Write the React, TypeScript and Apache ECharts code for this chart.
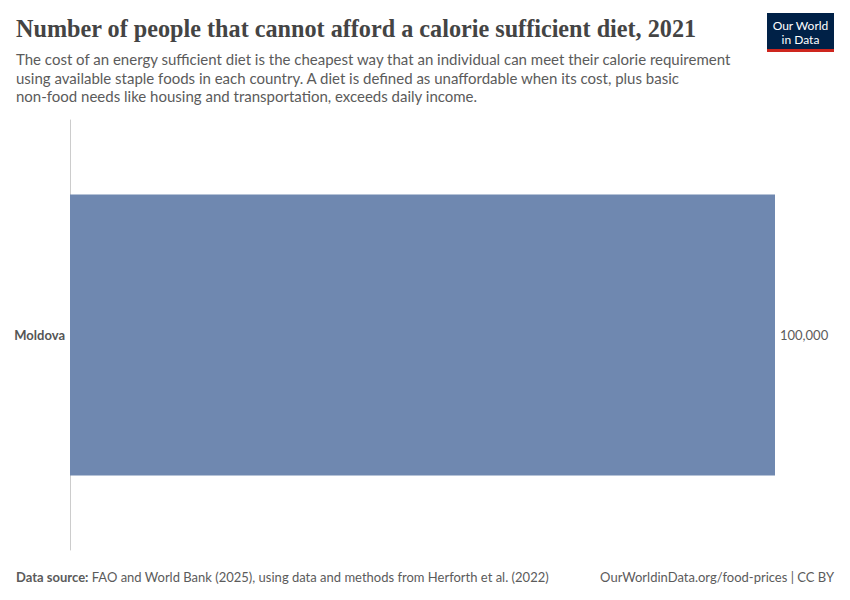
import React, { useEffect, useRef } from "react";
import * as echarts from "echarts";

const countries: string[] = ["Moldova"];
const peopleUnaffordable: number[] = [100000];
const titleText = "Number of people that cannot afford a calorie sufficient diet, 2021";
const subtitleLines: string[] = [
  "The cost of an energy sufficient diet is the cheapest way that an individual can meet their calorie requirement",
  "using available staple foods in each country. A diet is defined as unaffordable when its cost, plus basic",
  "non-food needs like housing and transportation, exceeds daily income.",
];
const sourceLabel = "Data source:";
const sourceText = " FAO and World Bank (2025), using data and methods from Herforth et al. (2022)";
const urlText = "OurWorldinData.org/food-prices | CC BY";

export default function App() {
  const ref = useRef<HTMLDivElement>(null);
  useEffect(() => {
    if (!ref.current) return;
    const chart = echarts.init(ref.current, undefined, { renderer: "svg" });
    chart.setOption({
      animation: false,
      backgroundColor: "#ffffff",
      grid: { left: 70, right: 75, top: 120, bottom: 50, containLabel: false },
      xAxis: {
        type: "value",
        min: 0,
        max: 100000,
        show: false,
      },
      yAxis: {
        type: "category",
        data: countries,
        axisLine: { show: true, lineStyle: { color: "#cccccc", width: 1 } },
        axisTick: { show: false },
        axisLabel: {
          fontFamily: "Lato",
          fontSize: 13,
          fontWeight: "bold",
          color: "#555555",
          margin: 5,
        },
      },
      series: [
        {
          type: "bar",
          data: peopleUnaffordable,
          barWidth: 281,
          itemStyle: { color: "#6f88b0" },
          label: {
            show: true,
            position: "right",
            distance: 5,
            fontFamily: "Lato",
            fontSize: 13,
            color: "#5b5b5b",
            formatter: (p: any) => Number(p.value).toLocaleString("en-US"),
          },
        },
      ],
      graphic: [
        {
          type: "text",
          left: 16,
          top: 16,
          style: {
            text: titleText,
            fontFamily: "Liberation Serif",
            fontSize: 24.2,
            fontWeight: "bold",
            fill: "#444444",
          },
        },
        {
          type: "text",
          left: 16,
          top: 50,
          style: {
            text: subtitleLines.join("\n"),
            fontFamily: "Lato",
            fontSize: 15,
            lineHeight: 18.5,
            fill: "#5b5b5b",
          },
        },
        {
          type: "group",
          left: 767,
          top: 13,
          children: [
            { type: "rect", shape: { x: 0, y: 0, width: 67, height: 39 }, style: { fill: "#002147" } },
            { type: "rect", shape: { x: 0, y: 36, width: 67, height: 3 }, style: { fill: "#ce261e" } },
            {
              type: "text",
              x: 33.5,
              y: 12,
              style: {
                text: "Our World",
                fontFamily: "Lato",
                fontSize: 12,
                lineHeight: 12,
                fill: "#ffffff",
                align: "center",
                verticalAlign: "middle",
              },
            },
            {
              type: "text",
              x: 33.5,
              y: 26.5,
              style: {
                text: "in Data",
                fontFamily: "Lato",
                fontSize: 12,
                lineHeight: 12,
                fill: "#ffffff",
                align: "center",
                verticalAlign: "middle",
              },
            },
          ],
        },
        {
          type: "text",
          left: 16,
          top: 570,
          style: {
            text: "{b|" + sourceLabel + "}{n|" + sourceText + "}",
            rich: {
              b: { fontFamily: "Lato", fontSize: 13, fontWeight: "bold", fill: "#5b5b5b" },
              n: { fontFamily: "Lato", fontSize: 13, fill: "#5b5b5b" },
            },
          },
        },
        {
          type: "text",
          right: 16,
          top: 570,
          style: {
            text: urlText,
            fontFamily: "Lato",
            fontSize: 13,
            fill: "#5b5b5b",
          },
        },
      ],
    });
    return () => chart.dispose();
  }, []);
  return (
    <div
      ref={ref}
      style={{ position: "fixed", left: 0, top: 0, width: 850, height: 600 }}
    />
  );
}
